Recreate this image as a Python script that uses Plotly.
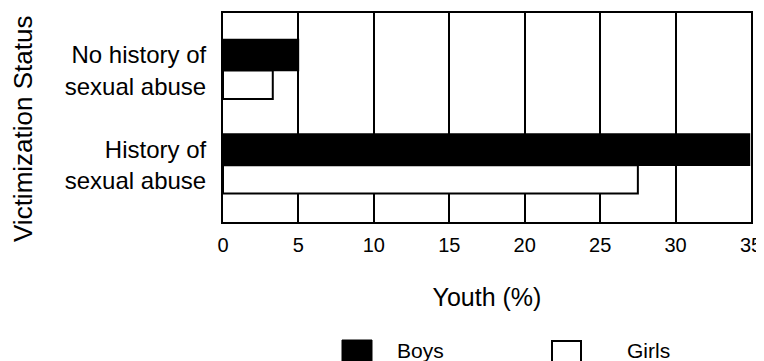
import plotly.graph_objects as go

# Data
categories = ["History of<br>sexual abuse", "No history of<br>sexual abuse"]
boys = [34.9, 5.0]
girls = [27.5, 3.3]
x_ticks = [0, 5, 10, 15, 20, 25, 30, 35]

FONT = "Liberation Sans, Arial, Helvetica, sans-serif"

# page has an 8px body margin; place everything relative to that
OFF = 8
W, H = 764 - OFF, 361 - OFF
L, T = 223 - OFF, 13 - OFF
R = W - (751 - OFF)
B = H - (222 - OFF)
pw = W - L - R
ph = H - T - B

def px(xp):
    return (xp - OFF - L) / pw

def py(yp):
    return (H - B - (yp - OFF)) / ph

fig = go.Figure()
fig.add_trace(go.Bar(
    y=categories, x=boys, orientation="h", name="Boys",
    marker=dict(color="black", line=dict(color="black", width=1.5)),
    width=0.33, offset=0.0, showlegend=False,
))
fig.add_trace(go.Bar(
    y=categories, x=girls, orientation="h", name="Girls",
    marker=dict(color="white", line=dict(color="black", width=2)),
    width=0.30, offset=-0.30, showlegend=False,
))

fig.update_layout(
    width=W, height=H,
    margin=dict(l=L, r=R, t=T, b=B),
    paper_bgcolor="white", plot_bgcolor="white",
    barmode="overlay",
    font=dict(family=FONT, color="black"),
    xaxis=dict(
        range=[0, 35], tickvals=x_ticks, ticktext=[str(v) for v in x_ticks],
        showgrid=True, gridcolor="black", gridwidth=1.5,
        zeroline=False, showline=True, linecolor="black", linewidth=2,
        mirror=True, ticks="", tickfont=dict(size=20), ticklabelstandoff=4,
        ticklabeloverflow="allow",
        title=dict(text="Youth (%)", font=dict(size=25), standoff=33),
        automargin=False,
    ),
    yaxis=dict(
        type="category", categoryorder="array", categoryarray=categories,
        range=[-0.601, 1.609],
        showgrid=False, zeroline=False, showline=True, linecolor="black",
        linewidth=2, mirror=True, ticks="", tickfont=dict(size=24),
        ticklabelstandoff=10, automargin=False,
    ),
    showlegend=False,
)

# Y-axis title placed as rotated annotation
fig.add_annotation(
    text="Victimization Status", textangle=-90, showarrow=False,
    xref="paper", yref="paper", x=px(23), y=py(129),
    xanchor="center", yanchor="middle", font=dict(size=26),
)

# Custom legend
fig.add_shape(type="rect", xref="paper", yref="paper",
              x0=px(342), x1=px(372), y0=py(371), y1=py(340),
              fillcolor="black", line=dict(color="black", width=1))
fig.add_shape(type="rect", xref="paper", yref="paper",
              x0=px(552), x1=px(581), y0=py(371), y1=py(341),
              fillcolor="white", line=dict(color="black", width=2))
fig.add_annotation(text="Boys", showarrow=False, xref="paper", yref="paper",
                   x=px(395), y=py(350), xanchor="left", yanchor="middle",
                   font=dict(size=21))
fig.add_annotation(text="Girls", showarrow=False, xref="paper", yref="paper",
                   x=px(625), y=py(350), xanchor="left", yanchor="middle",
                   font=dict(size=21))

fig.write_html("out.html")
